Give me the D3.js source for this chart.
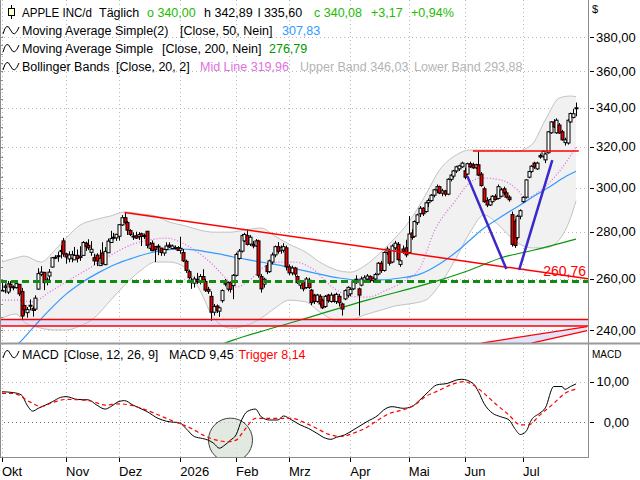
<!DOCTYPE html>
<html>
<head>
<meta charset="utf-8">
<script src="https://cdn.jsdelivr.net/npm/d3@7"></script>
<style>
  body { margin: 0; background: #fff; }
  svg { display: block; }
  text { font-family: 'Liberation Sans', Arial, sans-serif; }
</style>
</head>
<body>
<svg id="chart" width="640" height="480"></svg>
<script>
// daily candles, index 0 = 1 Okt 2025, one row per month
var opens = [
  255.0,256.6,254.7,257.9,256.8,256.5,257.8,254.9,249.4,246.6,249.5,248.3,248.0,255.9,261.9,262.7,259.0,261.2,264.9,268.9,269.3,271.9,276.0,
  270.4,268.3,268.6,267.9,269.8,268.9,269.8,275.0,274.1,271.1,268.8,269.9,265.5,270.8,265.9,270.9,275.3,277.3,277.3,
  278.0,283.0,286.2,284.1,280.5,278.1,278.2,277.8,279.1,277.9,280.2,272.8,275.0,273.6,273.6,272.9,270.8,272.3,274.2,272.7,272.8,273.1,
  272.0,271.0,267.3,263.0,259.5,258.3,259.8,259.2,261.0,259.0,255.8,253.0,246.8,249.2,247.2,251.3,259.2,255.9,258.5,257.3,
  261.5,268.5,271.6,276.0,278.3,274.6,274.5,273.8,276.0,261.0,257.9,265.5,263.0,267.0,270.0,273.5,272.0,272.0,273.0,
  265.0,262.5,264.5,261.0,257.5,258.5,256.5,259.5,255.5,253.5,251.0,253.0,251.5,249.0,253.5,251.0,253.5,251.0,253.0,250.0,252.0,253.5,
  254.0,256.0,259.9,256.0,257.5,259.5,260.0,261.0,259.5,260.0,262.0,266.5,263.5,271.0,271.5,267.0,273.0,274.5,266.0,272.5,273.0,
  271.0,279.5,278.0,284.0,288.0,290.5,289.0,293.0,294.0,296.5,299.0,300.5,297.5,298.5,297.0,304.0,305.5,308.0,309.0,310.0,
  308.1,306.5,311.5,311.0,309.5,311.0,306.5,299.5,294.0,292.0,293.5,296.0,295.0,296.0,299.5,297.6,295.6,287.6,284.6,277.4,286.9,
  293.5,295.6,305.0,307.7,311.8,309.0,315.5,315.2,313.4,316.9,327.0,332.6,327.0,331.0,327.5,322.0,321.8,332.6,335.0,340.0
];
var highs = [
  258.8,258.2,259.2,259.1,257.4,258.5,258.0,256.4,249.7,248.8,251.8,249.0,253.4,264.4,265.3,262.9,260.6,264.1,269.1,269.9,271.4,274.1,277.3,
  270.9,271.5,271.7,273.4,272.3,273.7,275.9,275.7,276.7,275.9,270.5,270.7,272.2,275.4,273.3,277.0,280.4,279.5,279.0,
  283.4,287.4,288.6,284.7,281.1,279.7,280.0,279.8,279.6,279.2,280.2,275.5,276.2,273.6,274.6,273.0,272.5,275.4,275.4,274.4,274.0,273.7,
  277.8,272.5,268.0,263.8,260.5,261.0,262.5,262.0,264.0,260.0,256.8,255.0,250.0,249.8,248.8,255.8,260.0,259.0,259.0,262.0,
  271.0,272.5,279.0,279.5,281.0,278.5,276.0,276.8,276.5,262.0,260.5,266.5,268.0,271.0,274.0,275.5,274.0,275.0,274.0,
  266.0,265.5,265.0,261.5,259.5,259.0,260.8,260.5,256.0,254.0,254.0,253.8,252.0,253.5,254.0,254.5,254.0,254.5,254.0,250.5,255.8,257.0,
  256.5,259.5,261.5,256.5,261.0,261.5,262.0,261.5,260.8,262.5,267.0,267.5,271.5,273.5,272.5,274.5,276.0,275.5,268.0,274.0,276.5,
  287.0,281.0,285.0,288.0,291.5,291.0,293.5,295.0,297.0,299.5,301.5,301.0,299.5,299.0,304.5,306.5,308.5,310.5,311.0,312.5,
  309.5,312.0,312.5,312.0,311.5,317.5,307.5,300.5,295.5,295.0,296.5,297.0,301.5,300.0,300.5,298.5,296.5,289.0,285.5,287.5,290.0,
  296.0,304.0,308.0,310.8,312.5,312.5,316.5,318.0,316.8,327.8,333.0,334.0,334.5,332.0,328.5,324.5,334.0,337.5,339.5,342.89
];
var lows = [
  254.9,254.2,253.9,255.1,255.4,256.1,253.1,244.0,245.6,244.7,247.5,245.1,247.3,255.6,261.1,255.5,257.4,259.2,264.7,268.2,267.1,268.5,269.2,
  266.3,266.9,266.9,267.9,266.8,267.5,269.8,271.7,272.1,269.6,265.7,265.3,265.5,265.9,265.7,270.9,275.3,276.6,276.0,
  276.1,282.6,283.3,278.6,278.1,276.4,276.9,276.4,273.8,276.8,272.8,271.8,271.6,267.0,269.9,269.6,269.6,272.0,272.9,272.4,272.3,271.8,
  270.5,267.0,262.5,259.8,256.0,256.5,258.0,257.8,258.5,254.8,254.0,243.5,245.5,246.5,245.0,250.5,257.0,255.0,254.5,251.9,
  261.0,268.0,271.0,275.5,274.0,273.8,272.8,273.5,260.5,254.5,256.5,262.0,262.5,266.0,269.0,270.5,270.5,271.0,263.5,
  261.5,261.5,261.0,258.0,256.0,255.0,256.0,256.0,249.5,250.0,250.5,249.0,248.0,248.5,250.5,250.5,250.5,250.0,249.0,245.5,251.5,252.5,
  253.0,255.5,258.0,245.5,257.0,258.5,259.0,258.5,258.5,259.5,261.5,262.5,263.0,270.0,265.5,266.5,272.0,267.5,265.0,270.5,269.0,
  270.5,276.5,277.5,283.0,286.5,287.0,288.5,291.0,293.5,295.5,297.5,297.0,296.0,296.0,296.5,303.0,304.5,307.0,308.0,309.5,
  304.0,306.0,309.5,309.0,309.0,305.5,300.5,293.0,291.0,291.5,293.0,294.0,294.5,295.5,296.5,295.0,293.5,273.5,273.0,276.5,285.5,
  293.0,295.0,304.5,307.0,309.0,308.5,314.0,314.5,311.8,316.5,326.5,329.5,326.5,326.5,323.0,320.5,321.0,332.0,334.5,335.6
];
var closes = [
  255.4,257.1,258.0,256.7,256.5,258.1,254.0,245.3,247.7,247.8,249.3,247.5,252.3,262.2,262.8,258.5,259.6,262.8,268.8,269.0,269.7,271.4,270.4,
  269.1,270.0,270.1,269.8,268.5,269.4,275.3,273.5,273.0,272.4,267.5,267.4,268.6,266.3,271.5,275.9,277.0,277.6,278.9,
  283.1,286.2,284.2,280.7,278.8,277.9,277.2,278.8,278.0,278.3,274.1,274.6,271.8,272.2,273.7,271.0,272.4,273.8,273.4,273.8,273.1,271.9,
  272.8,267.5,263.5,260.5,258.5,260.0,259.0,261.0,259.5,255.5,255.0,246.8,249.0,247.5,248.5,255.3,257.9,258.5,255.8,261.5,
  270.2,271.6,278.3,278.8,274.5,277.6,273.8,276.0,261.5,256.0,259.9,263.0,267.5,270.0,273.5,271.5,273.0,273.5,265.0,
  262.5,264.5,262.0,258.5,258.5,256.0,260.0,256.5,250.5,251.0,253.5,250.0,248.5,253.0,251.3,253.5,251.0,253.8,250.5,248.0,255.3,256.6,
  255.8,259.2,258.5,253.5,260.0,260.5,261.2,259.3,260.3,261.8,266.5,263.5,271.0,272.5,266.5,273.8,275.0,268.0,267.5,271.5,270.0,
  279.0,277.5,284.5,287.5,290.5,288.0,293.0,294.0,296.5,299.0,300.5,297.5,298.5,297.0,304.0,306.0,308.0,310.0,310.5,311.8,
  305.0,311.5,310.0,309.5,311.0,306.0,301.0,293.5,292.0,294.5,296.0,294.5,300.5,299.0,297.6,295.6,294.4,274.5,274.0,286.9,289.4,
  295.5,303.7,307.7,310.3,309.9,311.8,314.8,317.6,316.3,327.5,332.6,330.0,333.5,326.9,323.4,323.4,333.5,337.0,336.91,340.08
];

// month starts (trading day index) and their labels
var monthIdx = [0, 23, 42, 64, 84, 103, 125, 146, 166, 187];
var monthLabels = ["Okt", "Nov", "Dez", "2026", "Feb", "Mrz", "Apr", "Mai", "Jun", "Jul"];
var priceTicks = [240, 260, 280, 300, 320, 340, 360, 380];
var macdTicks = [0, 10];

// bollinger (20,2) read at some days
var bbIdx   = [0, 5, 8, 14, 19, 23, 28, 33, 39, 44, 50, 55, 60, 66, 71, 76, 82, 87, 93, 98, 103, 109, 114, 120, 125, 130, 136, 141, 146, 152, 157, 163, 168, 173, 179, 184, 190, 195, 200, 204, 206];
var bbUpper = [267.0, 268.7, 269.5, 267.0, 272.1, 277.2, 282.9, 285.2, 287.0, 288.8, 287.9, 287.0, 284.3, 282.5, 280.7, 279.8, 279.8, 280.7, 281.6, 278.0, 274.6, 271.2, 267.0, 263.7, 262.8, 265.3, 271.2, 277.2, 284.3, 296.6, 308.4, 315.8, 318.3, 318.3, 318.3, 317.5, 320.8, 333.6, 345.3, 346.4, 346.03];
var bbLower = [244.5, 246.1, 243.0, 240.7, 240.0, 240.0, 241.5, 244.5, 251.5, 257.5, 263.7, 267.0, 267.0, 264.5, 255.5, 244.5, 240.7, 241.5, 244.5, 248.4, 251.5, 250.8, 246.9, 243.8, 243.8, 245.7, 247.6, 249.2, 250.0, 251.5, 257.5, 268.7, 279.8, 287.4, 282.0, 276.0, 273.0, 273.0, 276.5, 286.0, 293.88];
var midIdx  = [0, 6, 11, 17, 23, 29, 35, 41, 47, 53, 59, 64, 69, 75, 81, 84, 89, 94, 100, 105, 111, 119, 125, 131, 138, 145, 150, 155, 163, 167, 172, 179, 185, 188, 192, 198, 203, 206];
var midLine = [251.5, 251.5, 250.8, 254.7, 258.8, 262.8, 267.0, 271.2, 274.6, 276.4, 277.2, 275.5, 272.1, 266.6, 259.6, 256.7, 259.6, 264.9, 267.0, 267.0, 264.5, 256.3, 253.1, 252.7, 255.5, 259.6, 264.5, 279.8, 294.4, 301.3, 304.6, 303.7, 299.0, 295.2, 297.5, 304.6, 313.3, 319.96];

// moving averages
var sma50Idx = [0, 6, 11, 17, 23, 29, 35, 41, 47, 53, 59, 64, 69, 74, 78, 83, 89, 95, 101, 107, 114, 121, 128, 136, 143, 150, 157, 163, 168, 173, 179, 186, 191, 197, 202, 206];
var sma50    = [231.8, 235.1, 240.7, 247.6, 253.9, 258.8, 262.8, 266.2, 268.7, 270.8, 272.1, 272.5, 272.1, 271.2, 270.4, 269.1, 267.8, 266.6, 265.3, 263.7, 262.0, 260.4, 259.6, 259.6, 260.4, 262.0, 266.2, 271.2, 276.4, 281.6, 286.5, 292.0, 296.1, 300.8, 305.1, 307.83];
var sma200Idx = [71, 83, 107, 131, 155, 168, 179, 191, 206];
var sma200    = [231.8, 236.2, 243.8, 251.5, 258.8, 263.7, 268.7, 272.1, 276.79];

// MACD 12/26/9
var macdIdx = [0, 4, 7, 9, 11, 13, 15, 18, 21, 23, 27, 31, 34, 37, 39, 42, 44, 47, 52, 56, 59, 64, 66, 69, 72, 74, 76, 78, 80, 82, 84, 86, 88, 91, 93, 96, 99, 101, 104, 107, 110, 113, 116, 118, 120, 123, 126, 131, 135, 137, 140, 144, 147, 150, 153, 156, 160, 163, 165, 169, 171, 173, 176, 179, 182, 184, 186, 188, 190, 193, 195, 198, 201, 202, 204, 206];
var macdVal = [7.5, 7.3, 6.7, 4.2, 2.7, 3.4, 4.0, 5.0, 6.1, 6.3, 5.6, 5.5, 4.2, 3.2, 3.8, 5.1, 5.3, 4.2, 2.6, 0.9, 0.2, -0.3, -1.6, -3.6, -4.1, -4.5, -5.3, -6.5, -5.7, -4.5, -3.2, 0.5, 2.6, 3.2, 1.3, 0.5, 0.5, 1.5, 0.5, -0.7, -1.6, -2.8, -4.0, -4.3, -3.8, -3.2, -2.0, 0.1, 1.7, 3.0, 3.8, 3.4, 3.8, 5.5, 7.5, 9.2, 9.6, 10.4, 10.6, 9.6, 7.5, 4.6, 2.2, 1.3, 0.5, -1.6, -3.1, -2.4, 0.5, 2.2, 3.5, 8.8, 8.8, 8.1, 8.8, 9.45];
var trigIdx = [0, 4, 10, 14, 18, 23, 28, 33, 37, 42, 46, 50, 55, 59, 63, 68, 72, 77, 81, 84, 87, 91, 96, 100, 104, 109, 113, 117, 122, 126, 131, 135, 139, 144, 148, 152, 157, 161, 166, 168, 173, 177, 182, 186, 189, 193, 198, 202, 206];
var trigVal = [7.1, 7.1, 5.0, 3.8, 4.8, 5.6, 5.5, 5.0, 4.2, 4.5, 4.2, 3.4, 2.1, 0.9, -0.2, -1.6, -3.2, -4.5, -4.9, -4.5, -2.0, 0.9, 0.9, 0.9, 0.9, -0.3, -1.6, -3.0, -3.6, -2.8, -1.3, 0.5, 2.1, 3.0, 4.2, 6.3, 7.9, 9.2, 10.0, 9.6, 7.1, 4.6, 1.7, -0.7, -0.7, 1.7, 4.6, 7.1, 8.14];

// drawings on the chart: [day index, price]
var trendLine = [[44, 288.6], [206, 260.76]];
var resistance = [[169, 317.8], [207, 317.8]];
var vLeft = [[167, 305.5], [181, 264.1]];
var vRight = [[185.6, 263.7], [197.5, 313.3]];
var channelA = [[172, 235.1], [210, 241.3]];
var channelB = [[190, 235.1], [210, 239.8]];
var supportLevels = [244.0, 241.5];
var dashLevel = 259.0;
var circleAt = [82, -4.5];

var plotRight = 588;
var mainBottom = 343;
var macdTop = 344, macdBottom = 458;

var svg = d3.select("#chart");

var x = d3.scaleLinear().domain([0, 206]).range([2, 576]);
var y = d3.scaleLog().domain([240, 380]).range([330, 37]);
var yMacd = d3.scaleLinear().domain([0, 10]).range([422, 381.7]);

var de = d3.formatLocale({ decimal: ",", thousands: ".", grouping: [3], currency: ["", ""] });
var f2 = de.format(".2f");
var fSigned = de.format("+.2f");

var defs = svg.append("defs");
defs.append("clipPath").attr("id", "clipMain").append("rect")
  .attr("x", 0).attr("y", 0).attr("width", plotRight).attr("height", mainBottom);
defs.append("clipPath").attr("id", "clipMacd").append("rect")
  .attr("x", 0).attr("y", macdTop).attr("width", plotRight).attr("height", macdBottom - macdTop);

// dotted grid
var grid = svg.append("g").attr("stroke", "#b8b8b8").attr("stroke-dasharray", "1,3");
grid.selectAll(".vg").data(monthIdx).enter().append("line")
  .attr("x1", d => Math.round(x(d)) + 0.5).attr("x2", d => Math.round(x(d)) + 0.5)
  .attr("y1", 0).attr("y2", macdBottom);
grid.selectAll(".hg").data(priceTicks).enter().append("line")
  .attr("x1", 0).attr("x2", plotRight)
  .attr("y1", d => Math.round(y(d)) + 0.5).attr("y2", d => Math.round(y(d)) + 0.5);
grid.selectAll(".mg").data(macdTicks).enter().append("line")
  .attr("x1", 0).attr("x2", plotRight)
  .attr("stroke", d => d === 0 ? "#707070" : "#b8b8b8")
  .attr("y1", d => Math.round(yMacd(d)) + 0.5).attr("y2", d => Math.round(yMacd(d)) + 0.5);

var main = svg.append("g").attr("clip-path", "url(#clipMain)");

// bollinger band
var bandArea = d3.area()
  .x((d, i) => x(bbIdx[i]))
  .y0((d, i) => y(bbLower[i]))
  .y1(d => y(d))
  .curve(d3.curveMonotoneX);
main.append("path").datum(bbUpper).attr("d", bandArea).attr("fill", "#f1f1f1");

// support zone + channel fill
main.append("rect")
  .attr("x", 0).attr("width", plotRight)
  .attr("y", y(supportLevels[0])).attr("height", y(supportLevels[1]) - y(supportLevels[0]))
  .attr("fill", "#e3e3fa");
var pt = d => [x(d[0]), y(d[1])];
main.append("path")
  .attr("d", d3.line()([pt(channelA[0]), pt(channelA[1]), pt(channelB[1]), pt(channelB[0])]) + "Z")
  .attr("fill", "#e3e3fa");

function seriesLine(idx, vals, sc) {
  return d3.line().x((d, i) => x(idx[i])).y(d => sc(d)).curve(d3.curveMonotoneX)(vals);
}
main.append("path").attr("d", seriesLine(bbIdx, bbUpper, y)).attr("fill", "none").attr("stroke", "#c2c2c2");
main.append("path").attr("d", seriesLine(bbIdx, bbLower, y)).attr("fill", "none").attr("stroke", "#c2c2c2");
main.append("path").attr("d", seriesLine(midIdx, midLine, y)).attr("fill", "none")
  .attr("stroke", "#e060e0").attr("stroke-width", 1.2).attr("stroke-dasharray", "1,2");
main.append("path").attr("d", seriesLine(sma50Idx, sma50, y)).attr("fill", "none").attr("stroke", "#3399ff").attr("stroke-width", 1.2);
main.append("path").attr("d", seriesLine(sma200Idx, sma200, y)).attr("fill", "none").attr("stroke", "#0a960a").attr("stroke-width", 1.2);

// candles
var days = d3.range(closes.length);
var cg = main.append("g");
cg.selectAll("line").data(days).enter().append("line")
  .attr("x1", i => Math.round(x(i)) + 0.5).attr("x2", i => Math.round(x(i)) + 0.5)
  .attr("y1", i => y(highs[i])).attr("y2", i => y(lows[i]))
  .attr("stroke", "#000");
cg.selectAll("rect").data(days).enter().append("rect")
  .attr("x", i => Math.round(x(i)) - 1)
  .attr("width", 3)
  .attr("y", i => y(Math.max(opens[i], closes[i])))
  .attr("height", i => Math.max(1, Math.abs(y(opens[i]) - y(closes[i]))))
  .attr("fill", i => closes[i] >= opens[i] ? "#fff" : "#e80000")
  .attr("stroke", "#000").attr("stroke-width", 1);

// drawings
main.selectAll(".sup").data(supportLevels).enter().append("line")
  .attr("x1", 0).attr("x2", plotRight)
  .attr("y1", d => y(d)).attr("y2", d => y(d))
  .attr("stroke", "#ff0000").attr("stroke-width", 1.5);
[channelA, channelB].forEach(function(c) {
  main.append("path").attr("d", d3.line()(c.map(pt))).attr("stroke", "#ff0000").attr("stroke-width", 1.3).attr("fill", "none");
});
main.append("line")
  .attr("x1", 0).attr("x2", plotRight)
  .attr("y1", y(dashLevel)).attr("y2", y(dashLevel))
  .attr("stroke", "#108a10").attr("stroke-width", 3).attr("stroke-dasharray", "7,4");

// trend line gets extended to the right border
var t0 = pt(trendLine[0]), t1 = pt(trendLine[1]);
var slope = (t1[1] - t0[1]) / (t1[0] - t0[0]);
main.append("line")
  .attr("x1", t0[0]).attr("y1", t0[1])
  .attr("x2", plotRight).attr("y2", t0[1] + slope * (plotRight - t0[0]))
  .attr("stroke", "#ff0000").attr("stroke-width", 1.5);
main.append("path").attr("d", d3.line()(resistance.map(pt))).attr("stroke", "#ff0000").attr("stroke-width", 1.5);
[vLeft, vRight].forEach(function(v) {
  main.append("path").attr("d", d3.line()(v.map(pt))).attr("stroke", "#3a28c8").attr("stroke-width", 2.5).attr("fill", "none");
});
svg.append("text")
  .attr("x", 586).attr("y", t1[1] - 1)
  .attr("text-anchor", "end").attr("font-size", 14).attr("fill", "#ff0000")
  .text(f2(trendLine[1][1]));

// MACD panel
var mg = svg.append("g").attr("clip-path", "url(#clipMacd)");
mg.append("circle")
  .attr("cx", x(circleAt[0])).attr("cy", yMacd(circleAt[1])).attr("r", 22)
  .attr("fill", "#d7e2d5").attr("fill-opacity", 0.75)
  .attr("stroke", "#404040").attr("stroke-width", 1);
mg.append("path").attr("d", seriesLine(macdIdx, macdVal, yMacd)).attr("fill", "none").attr("stroke", "#000").attr("stroke-width", 1);
mg.append("path").attr("d", seriesLine(trigIdx, trigVal, yMacd)).attr("fill", "none")
  .attr("stroke", "#ff0000").attr("stroke-width", 1.2).attr("stroke-dasharray", "4,3");

// frames
var frame = svg.append("g").attr("stroke", "#8c8c8c").attr("fill", "none");
frame.append("line").attr("x1", 0.5).attr("x2", 0.5).attr("y1", 0).attr("y2", macdBottom);
frame.append("line").attr("x1", plotRight + 0.5).attr("x2", plotRight + 0.5).attr("y1", 0).attr("y2", macdBottom);
frame.append("line").attr("x1", 0).attr("x2", 640).attr("y1", mainBottom + 0.5).attr("y2", mainBottom + 0.5).attr("stroke-width", 2).attr("stroke", "#9a9a9a");
frame.append("line").attr("x1", 0).attr("x2", plotRight).attr("y1", macdBottom - 0.5).attr("y2", macdBottom - 0.5);

// left ruler ticks
frame.selectAll(".lt").data(d3.range(240, 381, 5)).enter().append("line")
  .attr("x1", 0).attr("x2", 3)
  .attr("y1", d => Math.round(y(d)) + 0.5).attr("y2", d => Math.round(y(d)) + 0.5);

// right price axis
var ax = svg.append("g").attr("font-size", 13).attr("fill", "#000");
ax.selectAll(".pt").data(priceTicks).enter().append("line")
  .attr("x1", 590).attr("x2", 594)
  .attr("y1", d => Math.round(y(d)) + 0.5).attr("y2", d => Math.round(y(d)) + 0.5)
  .attr("stroke", "#000");
ax.selectAll(".pl").data(priceTicks).enter().append("text")
  .attr("x", 596).attr("y", d => y(d) + 4.5)
  .text(d => f2(d));
ax.append("text").attr("x", 592).attr("y", 13).attr("font-size", 11).text("$");
ax.append("text").attr("x", 592).attr("y", 358).attr("font-size", 10).text("MACD");
ax.selectAll(".mt").data(macdTicks).enter().append("line")
  .attr("x1", 590).attr("x2", 594)
  .attr("y1", d => Math.round(yMacd(d)) + 0.5).attr("y2", d => Math.round(yMacd(d)) + 0.5)
  .attr("stroke", "#000");
ax.selectAll(".ml").data(macdTicks).enter().append("text")
  .attr("x", 629).attr("text-anchor", "end").attr("y", d => yMacd(d) + 4.5)
  .text(d => f2(d));

// month axis
ax.selectAll(".xt").data(monthIdx).enter().append("line")
  .attr("x1", d => Math.round(x(d)) + 0.5).attr("x2", d => Math.round(x(d)) + 0.5)
  .attr("y1", macdBottom).attr("y2", macdBottom + 4)
  .attr("stroke", "#000");
ax.selectAll(".xl").data(monthIdx).enter().append("text")
  .attr("x", d => x(d)).attr("y", 476)
  .text((d, i) => monthLabels[i]);

// legend: each piece sits at its spot unless the one before it runs long
var last = closes.length - 1;
var chg = closes[last] - closes[last - 1];
function legendLine(yBase, parts) {
  var t = svg.append("text").attr("y", yBase).attr("font-size", 12.5);
  var end = 0;
  parts.forEach(function(p) {
    var s = t.append("tspan").attr("x", Math.max(p[0], end + 5)).attr("fill", p[2] || "#000").text(p[1]);
    if (p[3]) s.attr("textLength", p[3]).attr("lengthAdjust", "spacingAndGlyphs");
    end = +s.attr("x") + (p[3] || s.node().getComputedTextLength());
  });
}
function wave(cy) {
  svg.append("path")
    .attr("d", "M3," + (cy + 4) + " Q6.5," + (cy - 9) + " 10.5," + cy + " T19," + (cy - 3))
    .attr("fill", "none").attr("stroke", "#000").attr("stroke-width", 1);
}
var lime = "#22bb00";
svg.append("line").attr("x1", 11.5).attr("x2", 11.5).attr("y1", 5).attr("y2", 19).attr("stroke", "#000");
svg.append("rect").attr("x", 8.5).attr("y", 8.5).attr("width", 6).attr("height", 7).attr("fill", "#ffffcc").attr("stroke", "#000");
legendLine(16.5, [
  [22, "APPLE INC/d", null, 70], [99, "Täglich"],
  [147, "o " + f2(opens[last]), lime], [204, "h " + f2(highs[last])],
  [253, "l " + f2(lows[last])], [314, "c " + f2(closes[last]), lime],
  [371, fSigned(chg), lime], [411, fSigned(chg / closes[last - 1] * 100) + "%", lime]
]);
wave(30);
legendLine(34.5, [[22, "Moving Average Simple(2)"], [180, "[Close, 50, Nein]"], [282, f2(sma50[sma50.length - 1]), "#3399ff"]]);
wave(48);
legendLine(52.5, [[22, "Moving Average Simple"], [162, "[Close, 200, Nein]"], [269, f2(sma200[sma200.length - 1]), "#009900"]]);
wave(66);
legendLine(70.5, [
  [22, "Bollinger Bands"], [116, "[Close, 20, 2]"],
  [200, "Mid Line " + f2(midLine[midLine.length - 1]), "#e070e0"],
  [300, "Upper Band " + f2(bbUpper[bbUpper.length - 1]), "#b4b4b4"],
  [414, "Lower Band " + f2(bbLower[bbLower.length - 1]), "#b4b4b4"]
]);
wave(354);
legendLine(359, [
  [22, "MACD"], [61, "[Close, 12, 26, 9]"],
  [169, "MACD " + f2(macdVal[macdVal.length - 1])],
  [238, "Trigger " + f2(trigVal[trigVal.length - 1]), "#ff0000"]
]);
</script>
</body>
</html>
